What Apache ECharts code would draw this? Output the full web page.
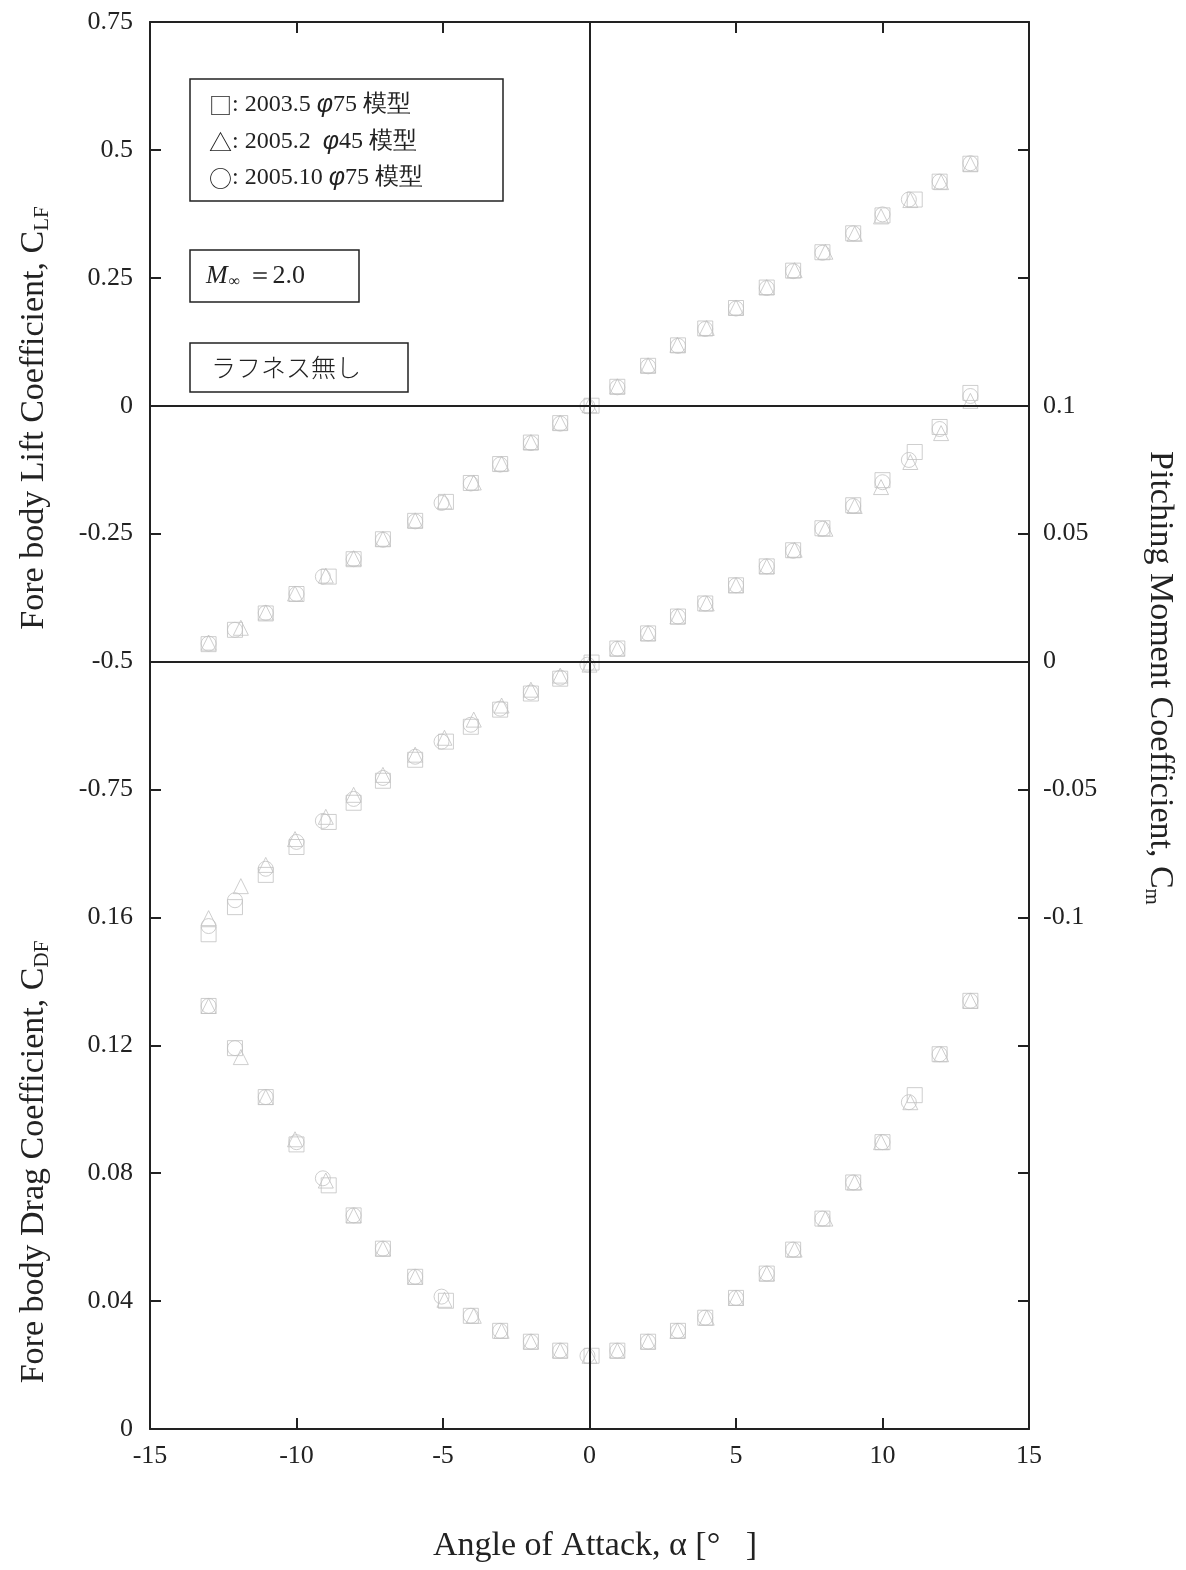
<!DOCTYPE html>
<html>
<head>
<meta charset="utf-8">
<script src="https://cdn.jsdelivr.net/npm/echarts@6/dist/echarts.min.js"></script>
<style>
  html, body { margin: 0; padding: 0; background: #fff; }
  #chart { width: 1186px; height: 1570px; }
</style>
</head>
<body>
<div id="chart"></div>
<script>
// angle of attack for each run (deg)
const alphaSq = [-13, -12.1, -11.05, -10, -8.9, -8.05, -7.05, -5.95, -4.9, -4.05, -3.05, -2, -1, 0.07, 0.95, 2, 3.02, 3.95, 5, 6.05, 6.95, 7.95, 9, 10, 11.1, 11.95, 13];
const alphaTri = [-13, -11.9, -11.05, -10.05, -9, -8.05, -7.05, -5.95, -4.95, -3.95, -3, -2, -1, 0, 0.95, 2, 3, 4, 5, 6.05, 7, 8.05, 9.05, 9.95, 10.95, 12, 13];
const alphaCir = [-13, -12.1, -11.05, -10, -9.1, -8.05, -7.05, -5.95, -5.05, -4.05, -3.05, -2, -1, -0.07, 0.95, 2, 3.02, 3.95, 5, 6.05, 6.95, 7.95, 9, 10, 10.9, 11.95, 13];

// fore body lift coefficient CLF
const liftSq = [-0.466, -0.438, -0.406, -0.368, -0.334, -0.300, -0.261, -0.225, -0.188, -0.151, -0.114, -0.072, -0.034, 0.000, 0.037, 0.078, 0.118, 0.151, 0.191, 0.231, 0.264, 0.300, 0.337, 0.372, 0.403, 0.438, 0.473];
const liftTri = [-0.463, -0.434, -0.404, -0.367, -0.332, -0.298, -0.260, -0.224, -0.187, -0.150, -0.113, -0.071, -0.033, 0.001, 0.038, 0.079, 0.119, 0.152, 0.192, 0.232, 0.265, 0.301, 0.336, 0.370, 0.402, 0.437, 0.472];
const liftCir = [-0.465, -0.438, -0.405, -0.368, -0.334, -0.300, -0.262, -0.226, -0.190, -0.152, -0.115, -0.073, -0.035, -0.001, 0.036, 0.077, 0.117, 0.150, 0.190, 0.230, 0.263, 0.299, 0.337, 0.374, 0.403, 0.438, 0.474];

// pitching moment coefficient Cm
const cmSq = [-0.1066, -0.0960, -0.0834, -0.0725, -0.0627, -0.0552, -0.0466, -0.0384, -0.0313, -0.0255, -0.0188, -0.0125, -0.0067, -0.0004, 0.0051, 0.0110, 0.0176, 0.0227, 0.0298, 0.0372, 0.0435, 0.0521, 0.0611, 0.0709, 0.0819, 0.0917, 0.1050];
const cmTri = [-0.1003, -0.0878, -0.0795, -0.0694, -0.0607, -0.0521, -0.0443, -0.0364, -0.0298, -0.0227, -0.0172, -0.0110, -0.0055, -0.0012, 0.0050, 0.0110, 0.0176, 0.0227, 0.0298, 0.0372, 0.0437, 0.0519, 0.0608, 0.0682, 0.0780, 0.0893, 0.1019];
const cmCir = [-0.1034, -0.0933, -0.0810, -0.0705, -0.0623, -0.0537, -0.0455, -0.0372, -0.0313, -0.0247, -0.0184, -0.0121, -0.0063, -0.0012, 0.0050, 0.0110, 0.0176, 0.0227, 0.0298, 0.0372, 0.0433, 0.0519, 0.0608, 0.0701, 0.0788, 0.0909, 0.1038];

// fore body drag coefficient CDF
const dragSq = [0.1323, 0.1191, 0.1038, 0.0890, 0.0762, 0.0668, 0.0564, 0.0476, 0.0401, 0.0354, 0.0307, 0.0273, 0.0245, 0.0229, 0.0245, 0.0273, 0.0307, 0.0348, 0.0410, 0.0486, 0.0561, 0.0658, 0.0771, 0.0897, 0.1044, 0.1172, 0.1339];
const dragTri = [0.1323, 0.1163, 0.1038, 0.0906, 0.0777, 0.0668, 0.0564, 0.0476, 0.0404, 0.0354, 0.0307, 0.0273, 0.0245, 0.0229, 0.0245, 0.0273, 0.0307, 0.0348, 0.0410, 0.0486, 0.0561, 0.0658, 0.0771, 0.0897, 0.1022, 0.1172, 0.1339];
const dragCir = [0.1323, 0.1191, 0.1038, 0.0897, 0.0784, 0.0668, 0.0564, 0.0476, 0.0414, 0.0354, 0.0307, 0.0273, 0.0245, 0.0229, 0.0245, 0.0273, 0.0307, 0.0348, 0.0410, 0.0486, 0.0561, 0.0658, 0.0771, 0.0897, 0.1022, 0.1172, 0.1339];

const legendLines = ["2003.5 ", "2005.2  ", "2005.10 "];

const serif = '"Liberation Serif", "Times New Roman", serif';
const markerColor = "#c2c2c2";

function pairs(xs, ys) {
  return xs.map((x, i) => [x, ys[i]]);
}

function dots(name, symbol, xs, ys, yIndex, size) {
  return {
    name: name,
    type: "scatter",
    yAxisIndex: yIndex,
    symbol: symbol,
    symbolSize: size,
    data: pairs(xs, ys),
    itemStyle: {
      color: "rgba(0,0,0,0)",
      borderColor: markerColor,
      borderWidth: 1,
    },
    emphasis: { disabled: true },
    z: 3,
  };
}

let myChart = echarts.init(document.getElementById("chart"));

let seriesData = [
  dots("sq", "rect", alphaSq, liftSq, 0, 15),
  dots("tri", "triangle", alphaTri, liftTri, 0, 15),
  dots("cir", "circle", alphaCir, liftCir, 0, 15),
  dots("sq", "rect", alphaSq, cmSq, 2, 15),
  dots("tri", "triangle", alphaTri, cmTri, 2, 15),
  dots("cir", "circle", alphaCir, cmCir, 2, 15),
  dots("sq", "rect", alphaSq, dragSq, 1, 15),
  dots("tri", "triangle", alphaTri, dragTri, 1, 15),
  dots("cir", "circle", alphaCir, dragCir, 1, 15),
];

// reference lines: alpha = 0, CLF = 0, Cm = 0
seriesData.push({
  type: "scatter",
  yAxisIndex: 0,
  data: [],
  silent: true,
  markLine: {
    silent: true,
    symbol: "none",
    label: { show: false },
    lineStyle: { color: "#222", width: 2, type: "solid" },
    data: [{ xAxis: 0 }, { yAxis: 0 }],
  },
  z: 1,
});
seriesData.push({
  type: "scatter",
  yAxisIndex: 2,
  data: [],
  silent: true,
  markLine: {
    silent: true,
    symbol: "none",
    label: { show: false },
    lineStyle: { color: "#222", width: 2, type: "solid" },
    data: [{ yAxis: 0 }],
  },
  z: 1,
});

const axisLineStyle = { color: "#222", width: 2 };
const tickFont = 26;

let option = {
  animation: false,
  backgroundColor: "#fff",
  grid: {
    left: 150,
    right: 157,
    top: 22,
    bottom: 141,
  },
  xAxis: [
    {
      type: "value",
      min: -15,
      max: 15,
      interval: 5,
      position: "bottom",
      axisLine: { onZero: false, lineStyle: axisLineStyle },
      axisTick: { inside: true, length: 11, lineStyle: axisLineStyle },
      axisLabel: { color: "#222", fontSize: tickFont, fontFamily: serif, margin: 14 },
      splitLine: { show: false },
    },
    {
      type: "value",
      min: -15,
      max: 15,
      interval: 5,
      position: "top",
      axisLine: { onZero: false, lineStyle: axisLineStyle },
      axisTick: { inside: true, length: 11, lineStyle: axisLineStyle },
      axisLabel: { show: false },
      splitLine: { show: false },
    },
  ],
  yAxis: [
    {
      type: "value",
      min: -2,
      max: 0.75,
      interval: 0.25,
      position: "left",
      axisLine: { show: true, onZero: false, lineStyle: axisLineStyle },
      axisTick: { show: true, inside: true, length: 11, lineStyle: axisLineStyle },
      axisLabel: {
        color: "#222",
        fontSize: tickFont,
        fontFamily: serif,
        margin: 17,
        formatter: (v) => (v >= -0.76 ? String(v) : ""),
      },
      splitLine: { show: false },
    },
    {
      type: "value",
      min: 0,
      max: 0.44,
      interval: 0.04,
      position: "left",
      axisLine: { show: false, onZero: false },
      axisTick: { show: false },
      axisLabel: {
        color: "#222",
        fontSize: tickFont,
        fontFamily: serif,
        margin: 17,
        formatter: (v) => (v <= 0.161 ? String(+v.toFixed(2)) : ""),
      },
      splitLine: { show: false },
    },
    {
      type: "value",
      min: -0.3,
      max: 0.25,
      interval: 0.05,
      position: "right",
      axisLine: { show: true, onZero: false, lineStyle: axisLineStyle },
      axisTick: { show: true, inside: true, length: 11, lineStyle: axisLineStyle },
      axisLabel: {
        color: "#222",
        fontSize: tickFont,
        fontFamily: serif,
        margin: 14,
        formatter: (v) => (v >= -0.101 && v <= 0.101 ? String(+v.toFixed(2)) : ""),
      },
      splitLine: { show: false },
    },
  ],
  graphic: [
    // legend box
    {
      type: "rect",
      shape: { x: 190, y: 79, width: 313, height: 122 },
      style: { fill: "#fff", stroke: "#222", lineWidth: 1.5 },
      z: 10,
    },
    {
      type: "text",
      x: 209,
      y: 105,
      style: {
        text: "{s|□}: " + legendLines[0] + "{i|φ}75 模型",
        fontSize: 24,
        fontFamily: serif,
        fill: "#222",
        verticalAlign: "middle",
        rich: { s: { fontSize: 23, fontFamily: "Noto Sans CJK JP" }, i: { fontStyle: "italic", fontSize: 25 } },
      },
      z: 11,
    },
    {
      type: "text",
      x: 209,
      y: 142,
      style: {
        text: "{s|△}: " + legendLines[1] + "{i|φ}45 模型",
        fontSize: 24,
        fontFamily: serif,
        fill: "#222",
        verticalAlign: "middle",
        rich: { s: { fontSize: 23, fontFamily: "Noto Sans CJK JP" }, i: { fontStyle: "italic", fontSize: 25 } },
      },
      z: 11,
    },
    {
      type: "text",
      x: 209,
      y: 178,
      style: {
        text: "{s|○}: " + legendLines[2] + "{i|φ}75 模型",
        fontSize: 24,
        fontFamily: serif,
        fill: "#222",
        verticalAlign: "middle",
        rich: { s: { fontSize: 23, fontFamily: "Noto Sans CJK JP" }, i: { fontStyle: "italic", fontSize: 25 } },
      },
      z: 11,
    },
    // Mach number box
    {
      type: "rect",
      shape: { x: 190, y: 250, width: 169, height: 52 },
      style: { fill: "#fff", stroke: "#222", lineWidth: 1.5 },
      z: 10,
    },
    {
      type: "text",
      x: 206,
      y: 276,
      style: {
        text: "{m|M}{sub|∞} ＝2.0",
        fontSize: 26,
        fontFamily: serif,
        fill: "#222",
        verticalAlign: "middle",
        rich: {
          m: { fontStyle: "italic", fontSize: 26, fontFamily: serif },
          sub: { fontSize: 16, fontFamily: serif, padding: [12, 0, 0, 1] },
        },
      },
      z: 11,
    },
    // roughness box
    {
      type: "rect",
      shape: { x: 190, y: 343, width: 218, height: 49 },
      style: { fill: "#fff", stroke: "#222", lineWidth: 1.5 },
      z: 10,
    },
    {
      type: "text",
      x: 211,
      y: 367,
      style: {
        text: "ラフネス無し",
        fontSize: 25,
        fontFamily: "Noto Sans CJK JP",
        fontWeight: 300,
        fill: "#222",
        verticalAlign: "middle",
      },
      z: 11,
    },
    // axis titles
    {
      type: "text",
      x: 34,
      y: 418,
      rotation: Math.PI / 2,
      style: {
        text: "Fore body Lift Coefficient, C{sub|LF}",
        fontSize: 34,
        fontFamily: serif,
        fill: "#222",
        align: "center",
        verticalAlign: "middle",
        rich: { sub: { fontSize: 21, fontFamily: serif, padding: [16, 0, 0, 0] } },
      },
    },
    {
      type: "text",
      x: 34,
      y: 1162,
      rotation: Math.PI / 2,
      style: {
        text: "Fore body Drag Coefficient, C{sub|DF}",
        fontSize: 34,
        fontFamily: serif,
        fill: "#222",
        align: "center",
        verticalAlign: "middle",
        rich: { sub: { fontSize: 21, fontFamily: serif, padding: [16, 0, 0, 0] } },
      },
    },
    {
      type: "text",
      x: 1160,
      y: 678,
      rotation: -Math.PI / 2,
      style: {
        text: "Pitching Moment Coefficient, C{sub|m}",
        fontSize: 34,
        fontFamily: serif,
        fill: "#222",
        align: "center",
        verticalAlign: "middle",
        rich: { sub: { fontSize: 21, fontFamily: serif, padding: [16, 0, 0, 0] } },
      },
    },
    {
      type: "text",
      x: 595,
      y: 1546,
      style: {
        text: "Angle of Attack, α [°   ]",
        fontSize: 34,
        fontFamily: serif,
        fill: "#222",
        align: "center",
        verticalAlign: "middle",
      },
    },
  ],
  series: seriesData,
};

myChart.setOption(option);
</script>
</body>
</html>
